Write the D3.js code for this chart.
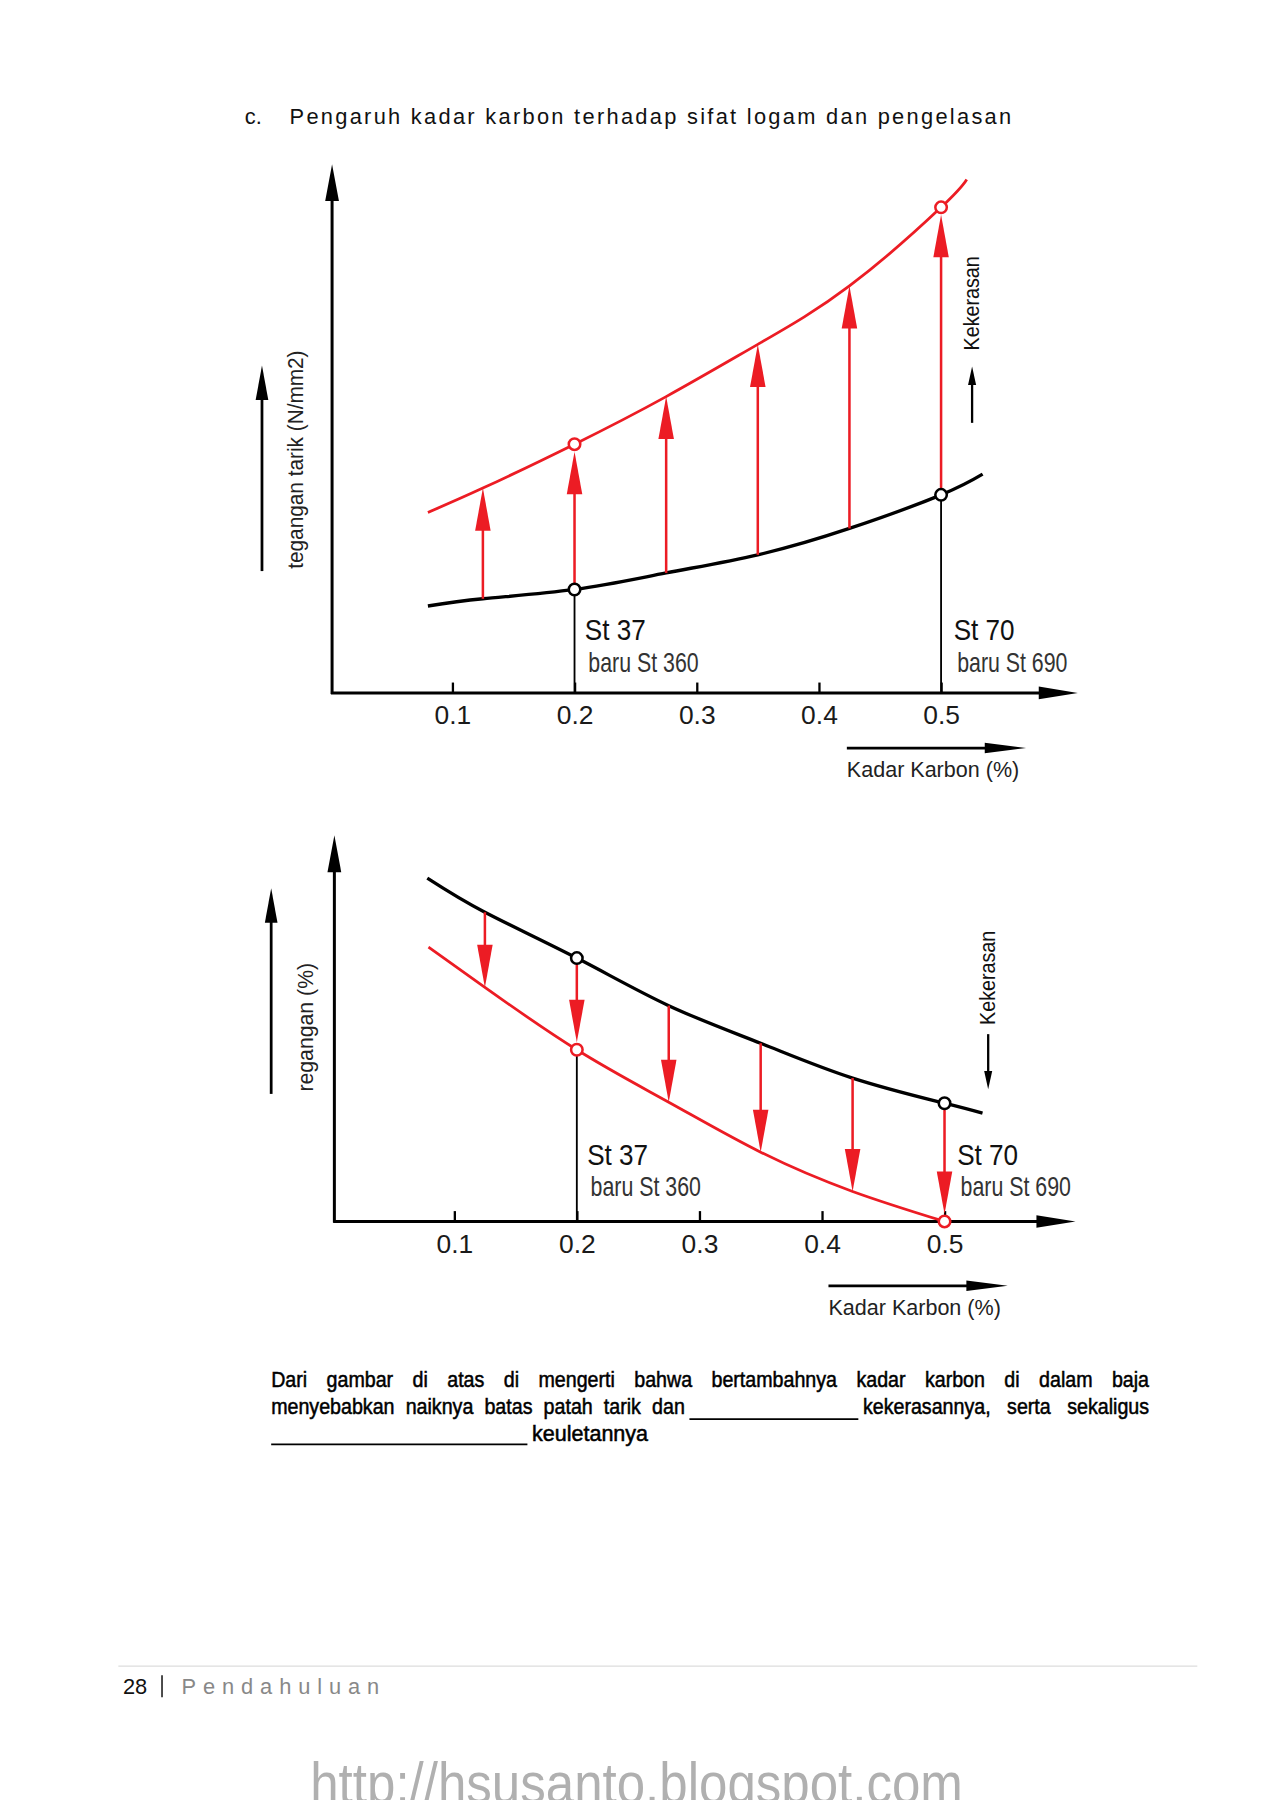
<!DOCTYPE html>
<html>
<head>
<meta charset="utf-8">
<script src="https://cdn.jsdelivr.net/npm/d3@7"></script>
<style>
  body { margin: 0; background: #fff; }
  text { font-family: "Liberation Sans", Arial, sans-serif; }
</style>
</head>
<body>
<svg id="page"></svg>
<script>
// kadar karbon (%) pada sumbu x
const tickKadar = [0.1, 0.2, 0.3, 0.4, 0.5];
const panahKadar = [0.125, 0.2, 0.275, 0.35, 0.425, 0.5];

// grafik atas: tegangan tarik (nilai relatif, 0-100)
const kadarHitam1 = [0.08, 0.125, 0.2, 0.275, 0.35, 0.425, 0.5, 0.534];
const teganganAwal = [16.8, 18.2, 20, 23.2, 26.7, 31.8, 38.3, 42.3];
const kadarMerah1 = [0.08, 0.125, 0.2, 0.275, 0.35, 0.425, 0.5, 0.521];
const teganganAkhir = [34.9, 39.6, 48.1, 57.3, 67.4, 78.7, 93.9, 99.3];

// grafik bawah: regangan (nilai relatif, 0-100)
const kadarHitam2 = [0.078, 0.125, 0.2, 0.275, 0.35, 0.425, 0.5, 0.531];
const reganganAwal = [99.6, 89.7, 76.4, 62.6, 51.7, 41.6, 34.3, 31.4];
const kadarMerah2 = [0.079, 0.125, 0.2, 0.275, 0.35, 0.425, 0.5];
const reganganAkhir = [79.6, 67.9, 49.8, 34.6, 20.1, 8.7, 0];

const bajaKadar = [0.2, 0.5];
const bajaNama = ['St 37', 'St 70'];
const bajaBaru = ['baru St 360', 'baru St 690'];

const RED = '#ec1c24';

const svg = d3.select('#page')
    .attr('width', 1272)
    .attr('height', 1800)
    .attr('viewBox', '0 0 1107 1566.5');

svg.append('rect').attr('width', 1107).attr('height', 1567).attr('fill', '#fff');

function head (g, x, y, dir, len, w, color) {
  // dir: -1 = ke atas, 1 = ke bawah, 2 = ke kanan
  let pts;
  if (dir === 2) {
    pts = [[x, y], [x - len, y - w / 2], [x - len, y + w / 2]];
  } else {
    pts = [[x, y], [x - w / 2, y - dir * len], [x + w / 2, y - dir * len]];
  }
  g.append('polygon').attr('points', pts.map(p => p.join(',')).join(' ')).attr('fill', color);
}

function drawChart (o) {
  const g = svg.append('g');
  const x = d3.scaleLinear().domain([0.2, 0.5]).range([o.x02, o.x05]);
  const y = d3.scaleLinear().domain([0, 100]).range([o.axisY, o.y100]);

  // sumbu
  g.append('line').attr('x1', o.oxLine).attr('x2', o.oxLine).attr('y1', o.axisY + 1).attr('y2', o.yTip + 20)
    .attr('stroke', '#000').attr('stroke-width', 2.6);
  head(g, o.oxLine, o.yTip, -1, 32, 12, '#000');
  g.append('line').attr('x1', o.oxLine - 1).attr('x2', o.xTip - 20).attr('y1', o.axisY).attr('y2', o.axisY)
    .attr('stroke', '#000').attr('stroke-width', 2.6);
  head(g, o.xTip, o.axisY, 2, 34, 11, '#000');

  const ax = g.append('g').attr('transform', 'translate(0,' + o.axisY + ')')
    .call(d3.axisBottom(x).tickValues(tickKadar).tickSizeInner(-9).tickSizeOuter(0)
      .tickPadding(11).tickFormat(d3.format('.1f')));
  ax.select('.domain').remove();
  ax.selectAll('line').attr('stroke', '#000').attr('stroke-width', 2);
  ax.selectAll('text').attr('font-size', 23).attr('fill', '#1a1a1a')
    .attr('font-family', '"Liberation Sans", Arial, sans-serif');

  const line = d3.line().x(d => x(d[0])).y(d => y(d[1])).curve(d3.curveNatural);
  const hitam = o.kadarHitam.map((k, i) => [k, o.hitam[i]]);
  const merah = o.kadarMerah.map((k, i) => [k, o.merah[i]]);

  // garis vertikal ke sumbu untuk St37 / St70
  bajaKadar.forEach(k => {
    const lo = Math.min(o.hitam[o.kadarHitam.indexOf(k)], o.merah[o.kadarMerah.indexOf(k)]);
    g.append('line').attr('x1', x(k)).attr('x2', x(k)).attr('y1', y(lo)).attr('y2', o.axisY)
      .attr('stroke', '#000').attr('stroke-width', 1.6);
  });

  g.append('path').attr('d', line(hitam)).attr('fill', 'none').attr('stroke', '#000').attr('stroke-width', 2.9);
  g.append('path').attr('d', line(merah)).attr('fill', 'none').attr('stroke', RED).attr('stroke-width', 2.4);

  // panah merah
  panahKadar.forEach(k => {
    const v0 = o.hitam[o.kadarHitam.indexOf(k)];
    const v1 = o.merah[o.kadarMerah.indexOf(k)];
    const y0 = y(v0);
    const dir = y(v1) < y0 ? -1 : 1;
    const off = bajaKadar.includes(k) ? 6.5 : 0;
    const tip = y(v1) - dir * off;
    g.append('line').attr('x1', x(k)).attr('x2', x(k)).attr('y1', y0).attr('y2', tip - dir * 20)
      .attr('stroke', RED).attr('stroke-width', 2.2);
    head(g, x(k), tip, dir, 37, 13.5, RED);
  });

  // titik baja
  bajaKadar.forEach(k => {
    g.append('circle').attr('cx', x(k)).attr('cy', y(o.hitam[o.kadarHitam.indexOf(k)])).attr('r', 5)
      .attr('fill', '#fff').attr('stroke', '#000').attr('stroke-width', 2.2);
    g.append('circle').attr('cx', x(k)).attr('cy', y(o.merah[o.kadarMerah.indexOf(k)])).attr('r', 5)
      .attr('fill', '#fff').attr('stroke', RED).attr('stroke-width', 2.2);
  });

  // label baja
  bajaKadar.forEach((k, i) => {
    g.append('text').attr('x', x(k) + 9 + i * 2).attr('y', o.labelY)
      .attr('font-size', 25).attr('fill', '#111')
      .attr('textLength', 53).attr('lengthAdjust', 'spacingAndGlyphs').text(bajaNama[i]);
    g.append('text').attr('x', x(k) + 12 + i * 2).attr('y', o.labelY + o.labelGap)
      .attr('font-size', 24).attr('fill', '#333')
      .attr('textLength', 96).attr('lengthAdjust', 'spacingAndGlyphs').text(bajaBaru[i]);
  });

  // label sumbu y
  g.append('line').attr('x1', o.yArrowX).attr('x2', o.yArrowX).attr('y1', o.yArrowBot).attr('y2', o.yArrowTop + 20)
    .attr('stroke', '#000').attr('stroke-width', 2.4);
  head(g, o.yArrowX, o.yArrowTop, -1, 30, 11, '#000');
  g.append('text').attr('transform', 'translate(' + (o.yArrowX + 36) + ',' + o.yLabelC + ') rotate(-90)')
    .attr('text-anchor', 'middle').attr('font-size', 19).attr('fill', '#222')
    .attr('textLength', o.yLabelLen).attr('lengthAdjust', 'spacingAndGlyphs').text(o.yLabel);

  // kekerasan
  g.append('text').attr('transform', 'translate(' + (o.kekX + 6) + ',' + o.kekC + ') rotate(-90)')
    .attr('text-anchor', 'middle').attr('font-size', 19).attr('fill', '#111')
    .attr('textLength', 82).attr('lengthAdjust', 'spacingAndGlyphs').text('Kekerasan');
  const kd = o.kekDir;
  g.append('line').attr('x1', o.kekX).attr('x2', o.kekX).attr('y1', o.kekA).attr('y2', o.kekB - kd * 10)
    .attr('stroke', '#000').attr('stroke-width', 2);
  head(g, o.kekX, o.kekB, kd, 16, 7, '#000');

  // label sumbu x
  g.append('line').attr('x1', o.kadarX).attr('x2', o.kadarX + 130).attr('y1', o.kadarY).attr('y2', o.kadarY)
    .attr('stroke', '#000').attr('stroke-width', 2.4);
  head(g, o.kadarX + 156, o.kadarY, 2, 36, 9, '#000');
  g.append('text').attr('x', o.kadarX).attr('y', o.kadarY + 25).attr('font-size', 19).attr('fill', '#222')
    .attr('textLength', 150).attr('lengthAdjust', 'spacingAndGlyphs').text('Kadar Karbon (%)');
}

drawChart({
  x02: 500, x05: 819, oxLine: 289, axisY: 603, y100: 153, yTip: 143, xTip: 938,
  kadarHitam: kadarHitam1, hitam: teganganAwal, kadarMerah: kadarMerah1, merah: teganganAkhir,
  labelY: 557, labelGap: 28,
  yArrowX: 228, yArrowTop: 318, yArrowBot: 497, yLabelC: 400, yLabelLen: 190, yLabel: 'tegangan tarik (N/mm2)',
  kekX: 846, kekC: 264, kekA: 368, kekB: 319, kekDir: -1,
  kadarX: 737, kadarY: 651
});

drawChart({
  x02: 502, x05: 822, oxLine: 291, axisY: 1063, y100: 763, yTip: 727, xTip: 936,
  kadarHitam: kadarHitam2, hitam: reganganAwal, kadarMerah: kadarMerah2, merah: reganganAkhir,
  labelY: 1014, labelGap: 27,
  yArrowX: 236, yArrowTop: 773, yArrowBot: 952, yLabelC: 894, yLabelLen: 112, yLabel: 'regangan (%)',
  kekX: 860, kekC: 851, kekA: 900, kekB: 948, kekDir: 1,
  kadarX: 721, kadarY: 1119
});

// judul
svg.append('text').attr('x', 213).attr('y', 108).attr('font-size', 19).attr('fill', '#111').text('c.');
svg.append('text').attr('x', 252).attr('y', 108).attr('font-size', 19).attr('fill', '#111')
  .attr('textLength', 628).attr('lengthAdjust', 'spacing')
  .text('Pengaruh kadar karbon terhadap sifat logam dan pengelasan');

// paragraf: huruf sedikit dipersempit, rata kiri-kanan lewat word-spacing
const SEMPIT = 0.9;
function paraLine (x, y, str, width) {
  const t = svg.append('text')
    .attr('transform', 'translate(' + x + ',' + y + ') scale(' + SEMPIT + ',1)')
    .attr('font-size', 19).attr('fill', '#000')
    .attr('stroke', '#000').attr('stroke-width', 0.45)
    .text(str);
  const target = width / SEMPIT;
  const w = t.node().getComputedTextLength();
  const gaps = (str.match(/ /g) || []).length;
  if (w < target && gaps > 0) {
    t.attr('word-spacing', (target - w) / gaps);
  } else {
    t.attr('textLength', target).attr('lengthAdjust', 'spacingAndGlyphs');
  }
}
paraLine(236, 1207, 'Dari gambar di atas di mengerti bahwa bertambahnya kadar karbon di dalam baja', 764);
paraLine(236, 1231, 'menyebabkan naiknya batas patah tarik dan', 360);
svg.append('line').attr('x1', 600).attr('x2', 747).attr('y1', 1235).attr('y2', 1235).attr('stroke', '#000').attr('stroke-width', 1.4);
paraLine(751, 1231, 'kekerasannya, serta sekaligus', 249);
svg.append('line').attr('x1', 236).attr('x2', 459).attr('y1', 1257).attr('y2', 1257).attr('stroke', '#000').attr('stroke-width', 1.4);
paraLine(463, 1254, 'keuletannya', 101);

// kaki halaman
svg.append('line').attr('x1', 103).attr('x2', 1042).attr('y1', 1450).attr('y2', 1450).attr('stroke', '#ddd').attr('stroke-width', 1.2);
svg.append('text').attr('x', 107).attr('y', 1474).attr('font-size', 19).attr('fill', '#111').text('28');
svg.append('line').attr('x1', 141).attr('x2', 141).attr('y1', 1458).attr('y2', 1477).attr('stroke', '#111').attr('stroke-width', 1.3);
svg.append('text').attr('x', 158).attr('y', 1474).attr('font-size', 19).attr('fill', '#888')
  .attr('textLength', 172).attr('lengthAdjust', 'spacing').text('Pendahuluan');

// tanda air
svg.append('text').attr('x', 270).attr('y', 1569).attr('font-size', 50).attr('fill', '#b0b0b0')
  .attr('textLength', 568).attr('lengthAdjust', 'spacingAndGlyphs').text('http://hsusanto.blogspot.com');
</script>
</body>
</html>
